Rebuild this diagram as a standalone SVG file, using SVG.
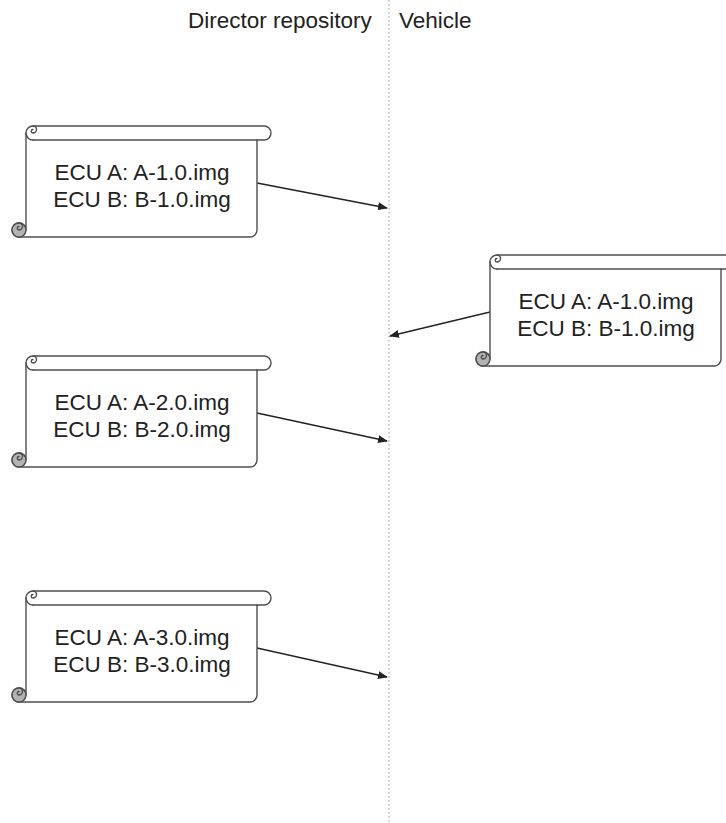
<svg xmlns="http://www.w3.org/2000/svg" width="726" height="823" viewBox="0 0 726 823">
<style>
.ln{fill:none;stroke:#4d4d4d;stroke-width:1.4;stroke-linecap:round;stroke-linejoin:round}
.body{fill:#ffffff;stroke:#4d4d4d;stroke-width:1.4;stroke-linejoin:round}
.curl{fill:#b3b3b3;stroke:#4d4d4d;stroke-width:1.4}
.t{font-family:"Liberation Sans",Arial,sans-serif;font-size:22.5px;fill:#222222;text-anchor:middle}
.h{font-family:"Liberation Sans",Arial,sans-serif;font-size:22.5px;fill:#222222}
.arr{fill:none;stroke:#222222;stroke-width:1.3;marker-end:url(#ah)}
</style>
<defs>
<marker id="ah" viewBox="0 0 10 8" refX="9" refY="4" markerWidth="10" markerHeight="8" markerUnits="userSpaceOnUse" orient="auto">
<path d="M0,0 L10,4 L0,8 Z" fill="#222222"/>
</marker>
<g id="scroll">
<path class="body" d="M14,7 A7,7 0 0 1 21,0 L252,0 A7,7 0 0 1 252,14 L245,14 L245,104 A7,7 0 0 1 238,111 L7,111 A7,7 0 0 1 0,104 A7,7 0 0 1 7,97 A7,7 0 0 1 14,104 Z"/>
<path class="ln" d="M21,14 L245,14"/>
<path class="ln" d="M14,7 A7,7 0 0 0 21,14"/>
<path class="ln" d="M21,0 A3.5,3.5 0 0 1 21,7 A1.75,1.75 0 0 1 21,3.5"/>
<circle class="curl" cx="7" cy="104" r="7"/>
<path class="ln" d="M7,97 A3.5,3.5 0 0 1 7,104 A1.75,1.75 0 0 1 7,100.5"/>
</g>
</defs>
<rect width="726" height="823" fill="#ffffff"/>
<line x1="389" y1="0" x2="389" y2="823" stroke="#9a9a9a" stroke-width="1" stroke-dasharray="1.5,2.5"/>
<g id="header-director"><text class="h" x="188" y="28">Director repository</text></g>
<g id="header-vehicle"><text class="h" x="399" y="28">Vehicle</text></g>
<g id="connectors">
<line class="arr" x1="257" y1="183" x2="387" y2="208"/>
<line class="arr" x1="490" y1="312" x2="390" y2="336"/>
<line class="arr" x1="257" y1="413" x2="387" y2="441"/>
<line class="arr" x1="257" y1="648" x2="387" y2="677"/>
</g>
<g id="dir1">
<use href="#scroll" transform="translate(12,126)"/>
<text class="t" x="142" y="180">ECU A: A-1.0.img</text>
<text class="t" x="142" y="207">ECU B: B-1.0.img</text>
</g>
<g id="vehicle1">
<use href="#scroll" transform="translate(476,255)"/>
<text class="t" x="606" y="309">ECU A: A-1.0.img</text>
<text class="t" x="606" y="336">ECU B: B-1.0.img</text>
</g>
<g id="dir2">
<use href="#scroll" transform="translate(12,356)"/>
<text class="t" x="142" y="410">ECU A: A-2.0.img</text>
<text class="t" x="142" y="437">ECU B: B-2.0.img</text>
</g>
<g id="dir3">
<use href="#scroll" transform="translate(12,591)"/>
<text class="t" x="142" y="645">ECU A: A-3.0.img</text>
<text class="t" x="142" y="672">ECU B: B-3.0.img</text>
</g>
</svg>
